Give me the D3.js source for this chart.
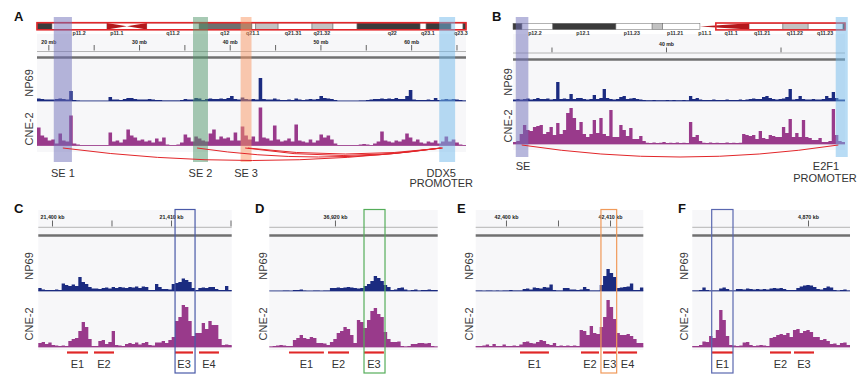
<!DOCTYPE html>
<html><head><meta charset="utf-8">
<script src="https://cdn.jsdelivr.net/npm/d3@7/dist/d3.min.js"></script>
<style>html,body{margin:0;padding:0;background:#fff}svg{display:block}</style>
</head><body>
<svg id="fig" width="865" height="383"></svg>
<script>
// ===================== DATA =====================
// Panel A: chr17 overview (mb), signal heights per bin
const npA = [2.5,2,1.5,1.5,1.5,2,2.5,2,1.5,10, 1,0.5,0.3,0.3,0.3,0.3,0.3,0.3,0.3,0.3, 4,1.5,1.5,1,2,3,3,2,1.5,1.5, 1.5,2,1.5,1,1,0.5,0.5,0.5,0.5,0.5, 1,2,1.5,1.5,3,2.5,1,2,2.5,2, 2,2.5,2,3,5,2,1.5,3.5,2,1.5, 2,1.5,23,2,1.5,1.5,2.5,1.5,1,1, 1.5,1,2.5,1.5,1,1.5,2,1.5,2,5, 3,2.5,2,1,0.3,0.3,0.3,0.3,0.3,0.3, 0.5,0.5,1,1.5,2,2,2.5,2,2.5,2, 3,2,2,5,11,1.5,1,1,1,1.5, 1,3,1,1.5,2,1.5,2,1.5,1,0.5];
const cneA = [18,10,8,5,6,2,12,5,4,30, 2,1,0.5,0.5,0.5,0.5,0.5,0.5,0.5,0.5, 13,4,5,3,6,16,10,8,5,6, 4,5,3,7,4,8,1,0.5,0.5,1, 3,11,8,4,9,7,5,4,12,16, 6,9,7,8,5,13,5,19,10,6, 9,4,38,8,7,5,20,6,4,5, 7,4,21,5,4,3,6,3,5,11, 8,10,6,2,0.5,0.5,0.5,0.5,0.5,0.5, 1,1.5,1,0.5,2,4,14,5,4,3, 5,4,6,12,8,4,6,3,2,4, 3,5,2,4,9,4,6,3,1,0.5];
const bandsA = [[0,3.5,'gpos100'],[3.5,16.3,'gneg'],[16.3,25.6,'acen'],[25.6,37.8,'gneg'],[37.8,50.1,'gpos75'],[50.1,51.0,'gneg'],[51.0,56.2,'gpos25'],[56.2,64.1,'gneg'],[64.1,69.0,'gpos25'],[69.0,74.6,'gneg'],[74.6,89.3,'gpos100'],[89.3,90.7,'gneg'],[90.7,96.5,'gpos100'],[96.5,99.3,'gneg'],[99.3,100,'gpos100']];
const bandLabelsA = ['p11.2','p11.1','q11.2','q12','q21.1','q21.31','q21.32','q22','q23.1','q23.3'];
const bandLabelPosA = [9.8,18.6,31.7,43.8,50.3,59.7,66.4,82.8,91.1,98.8];
const viewBoxA = [0,100];
const domainA = [18.75,66.05];
const rulerTicksA = [20,25,30,35,40,45,50,55,60,65];
const rulerLabelsA = ['20 mb','','30 mb','','40 mb','','50 mb','','60 mb',''];
const regionNamesA = ['SE 1','SE 2','SE 3','DDX5'];
const regionStartA = [20.6,35.95,41.2,63.1];
const regionEndA = [22.6,37.6,42.4,64.85];
const arcFromA = [21.6,36.4,41.7,42.0];
const arcToA = [63.4,63.2,63.3,63.5];

// Panel B: chr20 overview (mb)
const npB = [1.5,2,1.5,2,2.5,1.5,2,3,2,2, 2.5,1.5,2,19,2,2.5,2,7,2,3, 3,2,1.5,2,6,2,3,12,3,2, 1.5,2,4,5,2,2.5,3,2,1.5,1, 0.7,0.7,1,0.7,0.7,0.7,1,0.7,1,0.7, 0.7,1,0.7,5,2,3,1.5,1,1,1, 1.5,1,1,1,1.5,1,1,1,1.5,1, 1.5,2,2.5,2,2,4,5,3,2,1.5, 2,2.5,4,12,1.5,2,5,2,1.5,1.5, 2,1.5,1.5,2,5,3,9,3,1.5,1.5];
const cneB = [2,3,10,19,14,13,17,18,19,10, 12,17,9,21,10,14,31,36,26,14, 22,10,7,10,24,11,26,10,8,34, 7,7,19,14,8,16,5,5,8,3, 1.3,1,1.5,1,1.3,2,1,1.3,1,1.5, 1,1.3,1,22,7,9,3,1.3,1,1.5, 1,1.3,1,1,1.5,1,1.3,1,1.3,10, 9,8,9,5,13,6,5,9,8,7, 7,17,11,25,7,11,7,24,7,6, 4,4,6,2,2,3,35,9,3,2];
const bandsB = [[0,2.7,'gpos100'],[2.7,12,'gneg'],[12,31,'gpos100'],[31,41.9,'gneg'],[41.9,45.1,'gpos25'],[45.1,56.3,'gneg'],[56.3,71.1,'acen'],[71.1,81.3,'gneg'],[81.3,88.9,'gpos25'],[88.9,99.4,'gneg'],[99.4,100,'gpos100']];
const bandLabelsB = ['p12.2','p12.1','p11.23','p11.21','p11.1','q11.1','q11.21','q11.22','q11.23'];
const bandLabelPosB = [6.6,21.1,35.8,48.8,57.8,65.7,75,84.9,94];
const viewBoxB = [61.1,100];
const domainB = [26.64,55.63];
const rulerTicksB = [30,40,50];
const rulerLabelsB = ['','40 mb',''];
const regionNamesB = ['SE','E2F1'];
const regionStartB = [26.88,54.82];
const regionEndB = [27.98,55.87];
const arcFromB = [27.4];
const arcToB = [55.05];

// Panel C (kb)
const npC = [3,1.5,1,1,1,1.5,1,7.5,6,5, 6.5,5,14,9,7,4,2.5,2.5,2,3, 3.5,2.5,4,3,4,3.5,3,4,3.5,4.5, 3,4.5,4,1,1,7,4,2,2,1.5, 7,8,9,12.5,11,9,3,1,3,3.5, 3,4,4,2,1,1,5,1];
const cneC = [4,5,3,4.5,2,1.5,1,1.5,1,6, 8,9,16,25,20,8,1,1,6,7, 3,5,16,2,1.5,1,3,4,3,4.5, 2.5,4,5,2,1.5,4.5,4.5,6,4,7, 10,26,30,42,40,26,11,14,14,24, 18,26,22,22,8,2,2.5,2];
const domainC = [21398.85,21415.1];
const ticksC = [21400,21405,21410,21415];
const tickLabelsC = ['21,400 kb','','21,410 kb',''];
const featNamesC = ['E1','E2','E3','E4'];
const featStartC = [21401.26,21403.53,21410.34,21412.35];
const featEndC = [21403.03,21405.21,21411.85,21414.03];
const boxC = [21410.34,21412.02];

// Panel D (kb)
const npD = [0.3,0.3,0.3,0.3,0.5,0.5,0.3,1,1,1.5, 0.5,0.3,0.3,0.5,0.5,0.3,0.5,0.5,3,3, 3.5,3,3.5,4,3.5,3,2.5,3,5,7, 10,15,13,10,6,4,1,1.5,3,3.5, 1.5,0.5,1,1.5,0.5,1,1,1.5,1,1];
const cneD = [0.5,1,1.5,2,1.5,1,1,7,9,12, 9,8,10,9,4,4,3.5,2,5,8, 14,16,20,18,12,4,27,25,19,27, 36,39,33,30,15,8,5,5,5.5,1, 0.5,1,3,3,4,4,3.5,4,1,0.5];
const domainD = [36914.53,36928.56];
const ticksD = [36920];
const tickLabelsD = ['36,920 kb'];
const featNamesD = ['E1','E2','E3'];
const featStartD = [36916.17,36919.42,36922.42];
const featEndD = [36919.08,36921.17,36924.08];
const boxD = [36922.42,36924.17];

// Panel E (kb)
const npE = [0.5,0.5,0.3,0.5,0.5,0.3,0.5,0.3,0.5,0.5, 1,0.5,0.5,0.5,2,2.5,1.5,3.5,3,2.5, 4,3.5,6.5,1,0.5,0.5,3,3,1.5,1.5, 1,1.5,4,2,0.5,0.5,0.5,6,15,22, 18,14,3,3.5,4,4.5,7.5,1,1,3.5];
const cneE = [1,1,1.5,2.5,1,3,1,1,2.5,1, 1,1.5,1,2.5,5,5.5,4,3.5,5,7, 6,3,2,4,1,1.5,1,1.5,1,1.5, 1,17,16,12,21,14,13,20,30,47, 40,28,14,12,12,13,11,8,4,4];
const domainE = [42397.09,42413.2];
const ticksE = [42400,42405,42410];
const tickLabelsE = ['42,400 kb','','42,410 kb'];
const featNamesE = ['E1','E2','E3','E4'];
const featStartE = [42401.35,42407.21,42409.33,42410.77];
const featEndE = [42404.13,42408.94,42410.58,42412.6];
const boxE = [42409.13,42410.64];

// Panel F (kb)
const npF = [0.5,0.5,1,3.5,1,0.5,0.5,0.5,2.5,3.5, 2,0.5,0.5,2,2,1.5,2.5,2,1.5,2, 1.5,2,1.5,2.5,3,2.5,3,2,1,1, 1,3,4.5,5.5,6,5.5,4,2,1.5,3, 4.5,3.5,1,0.5,1,1.5,0.5];
const cneF = [1,1,2,5.5,5,11,9,17,37,27, 11,2,1.5,1,1.5,4.5,5,2,1,1.5, 2,1.5,1,9,10,12,13,12,14,10, 17,18,14,16,17,15,10,10,7,8, 6,3,3.5,2,4,4.5,2];
const domainF = [4858.43,4874.2];
const ticksF = [4870];
const tickLabelsF = ['4,870 kb'];
const featNamesF = ['E1','E2','E3'];
const featStartF = [4860.4,4866.2,4868.6];
const featEndF = [4862.5,4868.3,4870.6];
const boxF = [4860.37,4862.5];

const trackNames = ['NP69','CNE-2'];

// ===================== DRAWING =====================
const FONT = "'Liberation Sans', Arial, Helvetica, sans-serif";
const svg = d3.select('#fig').attr('font-family', FONT);
const NAVY = '#1b2b80', MAG = '#993a8b', BG = '#f7f7f9', RED = '#e2262a', TXT = '#333';

function drawTrack(g, vals, x0, x1, base, color) {
  const xi = d3.scaleLinear().domain([0, vals.length]).range([x0, x1]);
  const y = d3.scaleLinear().domain([0, 50]).range([base, base - 50]);
  const pts = vals.map((v, i) => [i, v]);
  pts.push([vals.length, vals[vals.length - 1]]);
  const area = d3.area().x(d => xi(d[0])).y0(y(0)).y1(d => y(d[1])).curve(d3.curveStepAfter);
  g.append('path').attr('d', area(pts)).attr('fill', color);
  g.append('line').attr('x1', x0).attr('x2', x1).attr('y1', base).attr('y2', base)
    .attr('stroke', color).attr('stroke-width', 0.9).attr('opacity', 0.8);
}

function drawIdeogram(g, bands, labs, labPos, box, x0, x1, y0, h, cenStyle) {
  const s = d3.scaleLinear().domain([0, 100]).range([x0, x1]);
  const fills = {gneg: '#ffffff', gpos25: '#c2c2c2', gpos75: '#6f6f6f', gpos100: '#3b3b3b'};
  g.selectAll(null).data(bands.filter(b => b[2] !== 'acen')).join('rect')
    .attr('x', b => s(b[0])).attr('y', y0).attr('width', b => s(b[1]) - s(b[0])).attr('height', h)
    .attr('fill', b => fills[b[2]]).attr('stroke', '#666').attr('stroke-width', 0.5);
  bands.filter(b => b[2] === 'acen').forEach(b => {
    const a = s(b[0]), c = s(b[1]), m = (a + c) / 2, ym = y0 + h / 2;
    const d = cenStyle === 'bowtie'
      ? `M${a},${y0}L${m},${ym}L${a},${y0 + h}Z M${c},${y0}L${m},${ym}L${c},${y0 + h}Z`
      : `M${a},${ym}L${c},${y0}L${c},${y0 + h}Z`;
    g.append('path').attr('d', d).attr('fill', '#b3191c');
  });
  g.selectAll(null).data(labs).join('text')
    .attr('x', (d, i) => s(labPos[i])).attr('y', y0 + h + 5.3)
    .attr('text-anchor', 'middle').attr('font-size', 5.3).attr('font-weight', 'bold').attr('fill', '#333')
    .text(d => d);
  g.append('rect').attr('x', s(box[0])).attr('y', y0 - 0.3).attr('width', s(box[1]) - s(box[0])).attr('height', h + 0.6)
    .attr('fill', 'none').attr('stroke', RED).attr('stroke-width', 1.6);
}

function drawRuler(g, x, ticks, labels, tickBottom, tickLen, lineY, x0, x1, fs) {
  const ax = d3.axisTop(x).tickValues(ticks).tickFormat((d, i) => labels[i]).tickSize(tickLen).tickPadding(1.2);
  const ag = g.append('g').attr('transform', `translate(0,${tickBottom})`).call(ax);
  ag.select('.domain').remove();
  ag.attr('font-family', FONT);
  ag.selectAll('.tick line').attr('stroke', '#555').attr('stroke-width', 0.9);
  ag.selectAll('.tick text').attr('font-size', fs).attr('font-weight', 'bold').attr('fill', '#222');
  g.append('line').attr('x1', x0).attr('x2', x1).attr('y1', lineY).attr('y2', lineY)
    .attr('stroke', '#b4b4b4').attr('stroke-width', 1);
}

function thick(g, x0, x1, y) {
  g.append('line').attr('x1', x0).attr('x2', x1).attr('y1', y).attr('y2', y)
    .attr('stroke', '#707070').attr('stroke-width', 2.4);
}

function trackLabel(g, x, y, t, fs) {
  g.append('text').attr('transform', `translate(${x},${y}) rotate(-90)`)
    .attr('text-anchor', 'middle').attr('font-size', fs).attr('fill', '#3a3a3a').text(t);
}

function letter(x, y, t) {
  svg.append('text').attr('x', x).attr('y', y).attr('font-size', 13).attr('font-weight', 'bold')
    .attr('fill', '#111').text(t);
}

function arc(g, xa, xb, y, bottom) {
  const p = d3.path();
  p.moveTo(xa, y);
  p.quadraticCurveTo((xa + xb) / 2, 2 * bottom - y, xb, y);
  g.append('path').attr('d', p.toString()).attr('fill', 'none').attr('stroke', RED).attr('stroke-width', 1);
}

// ---------- Panel A ----------
(function () {
  const g = svg.append('g');
  const x0 = 37, x1 = 466;
  const x = d3.scaleLinear().domain(domainA).range([x0, x1]);
  g.append('rect').attr('x', x0).attr('y', 34).attr('width', x1 - x0).attr('height', 118).attr('fill', BG);
  drawIdeogram(g, bandsA, bandLabelsA, bandLabelPosA, viewBoxA, x0, x1, 23, 6.5, 'bowtie');
  drawRuler(g, x, rulerTicksA, rulerLabelsA, 50.5, 5.5, 51.5, x0, x1, 5.2);
  thick(g, x0, x1, 57.5);
  drawTrack(g, npA, x0, x1, 101, NAVY);
  drawTrack(g, cneA, x0, x1, 145.5, MAG);
  const hl = ['#6f6fb9', '#4f9569', '#f99561', '#71b9eb'];
  g.selectAll(null).data(regionNamesA).join('rect')
    .attr('x', (d, i) => x(regionStartA[i])).attr('y', 17)
    .attr('width', (d, i) => x(regionEndA[i]) - x(regionStartA[i])).attr('height', 145)
    .attr('fill', (d, i) => hl[i]).attr('opacity', 0.5);
  const bottoms = [160.5, 157, 155.5, 154];
  arcFromA.forEach((a, i) => arc(g, x(a), x(arcToA[i]), 148, bottoms[i]));
  const dx = [0, 0, 0, -6];
  g.selectAll(null).data(regionNamesA).join('text')
    .attr('x', (d, i) => x((regionStartA[i] + regionEndA[i]) / 2) + dx[i]).attr('y', 176.5)
    .attr('text-anchor', 'middle').attr('font-size', 11).attr('fill', TXT).text(d => d);
  g.append('text').attr('x', x((regionStartA[3] + regionEndA[3]) / 2) - 6).attr('y', 187)
    .attr('text-anchor', 'middle').attr('font-size', 11).attr('fill', TXT).text('PROMOTER');
  trackLabel(g, 33, 83, trackNames[0], 11);
  trackLabel(g, 33, 129, trackNames[1], 11);
  letter(14, 21, 'A');
})();

// ---------- Panel B ----------
(function () {
  const g = svg.append('g');
  const x0 = 513, x1 = 845;
  const x = d3.scaleLinear().domain(domainB).range([x0, x1]);
  g.append('rect').attr('x', x0).attr('y', 34).attr('width', x1 - x0).attr('height', 116).attr('fill', BG);
  drawIdeogram(g, bandsB, bandLabelsB, bandLabelPosB, viewBoxB, x0, x1, 23.3, 6.3, 'wedge');
  drawRuler(g, x, rulerTicksB, rulerLabelsB, 52.5, 5, 53, x0, x1, 5.2);
  thick(g, x0, x1, 59.5);
  drawTrack(g, npB, x0, x1, 101, NAVY);
  drawTrack(g, cneB, x0, x1, 144, MAG);
  const hl = ['#6f6fb9', '#71b9eb'];
  g.selectAll(null).data(regionNamesB).join('rect')
    .attr('x', (d, i) => x(regionStartB[i])).attr('y', 17)
    .attr('width', (d, i) => x(regionEndB[i]) - x(regionStartB[i])).attr('height', 140)
    .attr('fill', (d, i) => hl[i]).attr('opacity', 0.5);
  arcFromB.forEach((a, i) => arc(g, x(a), x(arcToB[i]), 145, 157));
  g.append('text').attr('x', x(regionStartB[0])).attr('y', 170).attr('font-size', 11).attr('fill', TXT).text(regionNamesB[0]);
  g.append('text').attr('x', 826).attr('y', 170).attr('text-anchor', 'middle').attr('font-size', 11).attr('fill', TXT).text(regionNamesB[1]);
  g.append('text').attr('x', 825).attr('y', 181.5).attr('text-anchor', 'middle').attr('font-size', 11).attr('fill', TXT).text('PROMOTER');
  trackLabel(g, 512, 82, trackNames[0], 11);
  trackLabel(g, 512, 126, trackNames[1], 11);
  letter(492, 21, 'B');
})();

// ---------- Zoom panels C-F ----------
function zoomPanel(o) {
  const g = svg.append('g');
  const x = d3.scaleLinear().domain(o.domain).range([o.x0, o.x1]);
  g.append('rect').attr('x', o.x0).attr('y', 210).attr('width', o.x1 - o.x0).attr('height', 140).attr('fill', BG);
  drawRuler(g, x, o.ticks, o.tickLabels, 226.5, 6, 227.3, o.x0, o.x1, 5.3);
  thick(g, o.x0, o.x1, 235.5);
  drawTrack(g, o.np, o.x0, o.x1, 291, NAVY);
  drawTrack(g, o.cne, o.x0, o.x1, 347, MAG);
  g.selectAll(null).data(o.names).join('line')
    .attr('x1', (d, i) => x(o.fs[i])).attr('x2', (d, i) => x(o.fe[i]))
    .attr('y1', 352.5).attr('y2', 352.5).attr('stroke', '#e02828').attr('stroke-width', 2.2);
  g.selectAll(null).data(o.names).join('text')
    .attr('x', (d, i) => x((o.fs[i] + o.fe[i]) / 2)).attr('y', 368)
    .attr('text-anchor', 'middle').attr('font-size', 11).attr('fill', TXT).text(d => d);
  g.append('rect').attr('x', x(o.box[0])).attr('y', 209.5)
    .attr('width', x(o.box[1]) - x(o.box[0])).attr('height', 163.5)
    .attr('fill', 'none').attr('stroke', o.boxColor).attr('stroke-width', 1.2);
  trackLabel(g, o.lx, 266, trackNames[0], 11);
  trackLabel(g, o.lx, 324, trackNames[1], 11);
  letter(o.letterX, 213, o.letter);
}

zoomPanel({x0: 38.3, x1: 231.7, domain: domainC, ticks: ticksC, tickLabels: tickLabelsC, np: npC, cne: cneC,
  names: featNamesC, fs: featStartC, fe: featEndC, box: boxC, boxColor: '#4a5aa8', lx: 33, letter: 'C', letterX: 14});
zoomPanel({x0: 269.3, x1: 437.7, domain: domainD, ticks: ticksD, tickLabels: tickLabelsD, np: npD, cne: cneD,
  names: featNamesD, fs: featStartD, fe: featEndD, box: boxD, boxColor: '#55ad5a', lx: 267, letter: 'D', letterX: 255});
zoomPanel({x0: 475.7, x1: 643.3, domain: domainE, ticks: ticksE, tickLabels: tickLabelsE, np: npE, cne: cneE,
  names: featNamesE, fs: featStartE, fe: featEndE, box: boxE, boxColor: '#f09a5a', lx: 473, letter: 'E', letterX: 457});
zoomPanel({x0: 692.3, x1: 850, domain: domainF, ticks: ticksF, tickLabels: tickLabelsF, np: npF, cne: cneF,
  names: featNamesF, fs: featStartF, fe: featEndF, box: boxF, boxColor: '#5a68b0', lx: 688, letter: 'F', letterX: 678});
</script>
</body></html>
